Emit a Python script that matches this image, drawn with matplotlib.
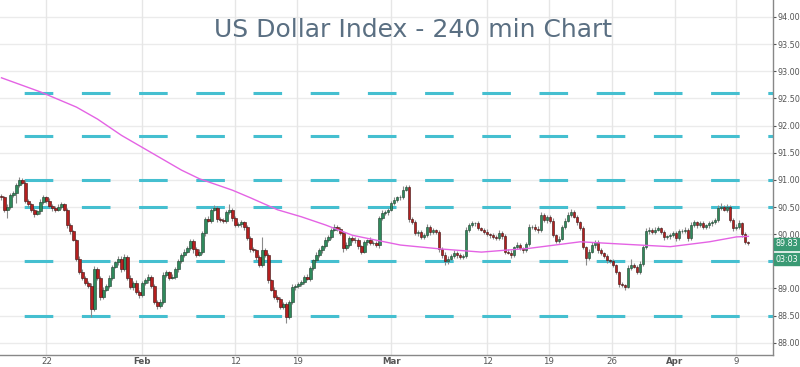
import matplotlib
matplotlib.use("Agg")
import matplotlib.pyplot as plt
from matplotlib.patches import Rectangle
import numpy as np

# ---------------- data ----------------
title = "US Dollar Index - 240 min Chart"
first_open = 90.70
closes = [
    90.68, 90.45, 90.50, 90.72, 90.75, 90.90, 91.00, 90.95, 90.62, 90.55,
    90.45, 90.38, 90.42, 90.60, 90.68, 90.62, 90.52, 90.48, 90.45, 90.50,
    90.55, 90.45, 90.17, 90.05, 89.90, 89.55, 89.30, 89.20, 89.10, 89.05,
    88.62, 89.35, 89.20, 88.85, 88.98, 89.05, 89.20, 89.40, 89.48, 89.55,
    89.35, 89.58, 89.20, 89.03, 89.10, 88.93, 88.88, 89.10, 89.15, 89.22,
    89.05, 88.75, 88.68, 88.75, 89.25, 89.30, 89.20, 89.22, 89.35, 89.50,
    89.62, 89.68, 89.75, 89.88, 89.72, 89.62, 89.68, 90.02, 90.28, 90.25,
    90.45, 90.48, 90.28, 90.26, 90.24, 90.40, 90.45, 90.30, 90.17, 90.18,
    90.22, 90.13, 89.93, 89.72, 89.70, 89.58, 89.43, 89.70, 89.62, 89.15,
    88.98, 88.85, 88.80, 88.66, 88.72, 88.48, 88.75, 89.03, 89.05, 89.08,
    89.12, 89.21, 89.18, 89.38, 89.52, 89.62, 89.70, 89.78, 89.89, 89.95,
    90.08, 90.13, 90.10, 90.02, 89.75, 89.80, 89.93, 89.90, 89.89, 89.78,
    89.68, 89.85, 89.89, 89.84, 89.84, 89.80, 90.30, 90.39, 90.40, 90.45,
    90.58, 90.63, 90.68, 90.69, 90.82, 90.87, 90.28, 90.22, 90.02, 90.04,
    89.95, 89.98, 90.13, 90.04, 90.07, 90.04, 89.72, 89.62, 89.50, 89.55,
    89.60, 89.65, 89.62, 89.58, 89.60, 90.08, 90.17, 90.20, 90.20, 90.11,
    90.08, 90.04, 90.00, 89.98, 89.95, 89.93, 90.02, 89.97, 89.68, 89.66,
    89.62, 89.76, 89.80, 89.74, 89.71, 89.82, 90.13, 90.14, 90.10, 90.08,
    90.35, 90.26, 90.32, 90.25, 89.98, 89.88, 89.92, 90.13, 90.25, 90.35,
    90.41, 90.32, 90.22, 90.11, 89.76, 89.56, 89.68, 89.80, 89.86, 89.70,
    89.65, 89.60, 89.52, 89.50, 89.43, 89.30, 89.08, 89.06, 89.03, 89.38,
    89.43, 89.40, 89.31, 89.45, 89.76, 90.06, 90.08, 90.04, 90.08, 90.11,
    90.04, 89.95, 89.96, 89.98, 90.02, 89.93, 90.05, 90.06, 90.08, 89.93,
    90.17, 90.22, 90.16, 90.20, 90.13, 90.16, 90.20, 90.22, 90.26, 90.48,
    90.50, 90.45, 90.50, 90.26, 90.11, 90.14, 90.20, 90.00, 89.86, 89.83,
]
# wick lengths above / below the body, in hundredths of an index point
upper_wick = [
    4, 3, 5, 3, 4, 5, 5, 3, 4, 3,   3, 4, 3, 5, 4, 3, 4, 3, 3, 5,
    4, 3, 3, 4, 3, 2, 4, 5, 3, 4,   5, 6, 4, 3, 4, 3, 5, 4, 3, 5,
    4, 6, 3, 4, 3, 5, 4, 3, 5, 4,   3, 4, 3, 5, 6, 4, 3, 4, 5, 4,
    3, 5, 4, 4, 3, 5, 4, 4, 3, 5,   4, 5, 3, 4, 3, 4, 10, 4, 3, 4,
    5, 3, 4, 3, 4, 3, 3, 25, 4, 3,  3, 4, 3, 4, 3, 4, 4, 5, 3, 4,
    4, 3, 5, 4, 3, 5, 4, 3, 5, 4,   4, 5, 3, 4, 3, 5, 4, 3, 5, 4,
    3, 4, 3, 5, 4, 3, 4, 5, 4, 3,   4, 5, 3, 4, 7, 4, 4, 3, 5, 4,
    3, 4, 5, 3, 4, 3, 3, 4, 5, 4,   3, 5, 4, 4, 3, 6, 4, 5, 3, 4,
    3, 4, 5, 3, 4, 3, 5, 4, 3, 4,   4, 3, 5, 4, 3, 4, 5, 3, 4, 5,
    6, 4, 3, 4, 5, 3, 4, 3, 4, 5,   5, 4, 3, 3, 4, 3, 4, 5, 4, 3,
    4, 3, 4, 3, 4, 3, 3, 4, 3, 5,   12, 4, 3, 5, 4, 5, 6, 4, 5, 4,
    3, 4, 3, 5, 4, 3, 4, 3, 5, 4,   5, 4, 3, 5, 4, 3, 4, 4, 3, 5,
    8, 4, 5, 3, 4, 5, 6, 3, 4, 2,
]
lower_wick = [
    5, 4, 15, 4, 3, 18, 4, 3, 4, 5,  4, 6, 3, 4, 5, 4, 3, 5, 4, 3,
    4, 3, 5, 4, 3, 4, 3, 5, 4, 5,    14, 4, 5, 6, 4, 3, 4, 5, 3, 4,
    5, 3, 4, 4, 5, 3, 6, 4, 3, 5,    4, 3, 5, 4, 3, 4, 5, 3, 4, 5,
    3, 4, 3, 5, 6, 4, 3, 4, 5, 3,    4, 3, 5, 4, 3, 4, 3, 5, 4, 3,
    4, 5, 3, 4, 3, 5, 4, 3, 4, 5,    3, 4, 5, 3, 4, 12, 4, 3, 5, 4,
    3, 4, 3, 5, 4, 3, 4, 5, 3, 4,    4, 3, 5, 4, 8, 4, 3, 4, 5, 6,
    4, 3, 5, 4, 3, 4, 5, 4, 3, 4,    3, 4, 3, 5, 4, 3, 5, 4, 3, 5,
    4, 3, 4, 5, 3, 4, 4, 5, 6, 4,    3, 4, 5, 3, 4, 3, 4, 3, 5, 4,
    3, 4, 3, 5, 4, 3, 4, 5, 4, 3,    6, 4, 3, 4, 5, 3, 4, 3, 4, 5,
    4, 3, 5, 4, 3, 4, 5, 3, 4, 3,    4, 3, 5, 4, 3, 12, 4, 3, 5, 4,
    3, 4, 5, 3, 4, 3, 5, 4, 6, 3,    4, 3, 5, 4, 3, 4, 5, 3, 4, 3,
    4, 5, 3, 4, 3, 5, 4, 3, 4, 5,    3, 4, 5, 3, 4, 3, 4, 5, 3, 4,
    4, 3, 5, 4, 5, 3, 4, 5, 4, 3,
]
# moving average (sampled at bar indices)
ma_index = [0, 13, 25, 32, 40, 50, 60, 66, 77, 83, 92, 100, 108, 117, 124,
            133, 146, 160, 176, 193, 206, 223, 236, 245, 249]
ma_value = [92.88, 92.62, 92.34, 92.12, 91.82, 91.50, 91.18, 91.02, 90.81,
            90.67, 90.45, 90.32, 90.17, 89.98, 89.90, 89.80, 89.73, 89.67,
            89.74, 89.86, 89.82, 89.77, 89.86, 89.95, 89.96]
# horizontal support / resistance levels
levels = [92.6, 91.8, 91.0, 90.5, 89.5, 88.5]
# x-axis labels
x_labels = ["22", "Feb", "12", "19", "Mar", "12", "19", "26", "Apr", "9"]
x_label_bar = [15, 47, 78, 98.5, 130, 162, 182.5, 203.5, 224.5, 245]
bold_labels = {"Feb", "Mar", "Apr"}
grid_y = [88.0, 88.5, 89.0, 89.5, 90.0, 90.5, 91.0, 91.5, 92.0, 92.5, 93.0, 93.5, 94.0]
y_ticks = [88.0, 88.5, 89.0, 90.0, 90.5, 91.0, 91.5, 92.0, 92.5, 93.0, 93.5, 94.0]
last_price_label = "89.83"
timer_label = "03:03"

# ---------------- figure ----------------
W, H = 800, 367
fig = plt.figure(figsize=(W / 100, H / 100), dpi=100)
ax = fig.add_axes([0, 12 / H, 773 / W, 355 / H])

closes_a = np.array(closes)
opens_a = np.concatenate([[first_open], closes_a[:-1]])
highs = np.maximum(opens_a, closes_a) + np.array(upper_wick) / 100.0
lows = np.minimum(opens_a, closes_a) - np.array(lower_wick) / 100.0
idx = np.arange(len(closes_a))

up_col = "#2f8a5c"
dn_col = "#b51f1f"
up = closes_a >= opens_a

# grid
for yv in grid_y:
    ax.axhline(yv, color="#ebebeb", lw=1.0, zorder=0)
for xv in x_label_bar:
    ax.axvline(xv, color="#e6e6e6", lw=1.0, zorder=0)

# levels
px_pt = 0.72
for lv in levels:
    ax.axhline(lv, color="#45bfd0", lw=2.2, zorder=1,
               linestyle=(15 * px_pt, (13 * px_pt, 13 * px_pt)),
               solid_capstyle="butt", dash_capstyle="butt")

# wicks
ax.vlines(idx, lows, highs, color="#8a8a8a", lw=0.8, zorder=2)
# bodies
body_h = np.abs(closes_a - opens_a)
body_h = np.maximum(body_h, 0.006)
body_b = np.minimum(opens_a, closes_a)
ax.bar(idx[up], body_h[up], bottom=body_b[up], width=0.7,
       color=up_col, edgecolor="#1d3d2c", linewidth=0.4, zorder=3)
ax.bar(idx[~up], body_h[~up], bottom=body_b[~up], width=0.7,
       color=dn_col, edgecolor="#3a1010", linewidth=0.4, zorder=3)

# moving average
ax.plot(ma_index, ma_value, color="#e463e4", lw=1.0, zorder=4)

ax.set_xlim(-0.5, 257.2)
ax.set_ylim(87.775, 94.313)

ax.yaxis.tick_right()
ax.set_yticks(y_ticks)
ax.set_yticklabels([f"{v:.2f}" for v in y_ticks])
ax.set_xticks(x_label_bar)
ax.set_xticklabels(x_labels)
for lbl in ax.get_xticklabels():
    if lbl.get_text() in bold_labels:
        lbl.set_fontweight("bold")
ax.tick_params(axis="y", labelsize=5.8, colors="#555555", length=2, pad=1,
               labelcolor="#555555")
ax.tick_params(axis="x", labelsize=6.2, colors="#555555", length=0, pad=1.5,
               labelcolor="#555555")
for s in ["top", "left"]:
    ax.spines[s].set_visible(False)
for s in ["right", "bottom"]:
    ax.spines[s].set_color("#888888")
    ax.spines[s].set_linewidth(1.0)

# title
fig.text(413 / W, 1 - 30 / H, title, ha="center", va="center",
         fontsize=18, color="#5a6f82", family="DejaVu Sans")

# right-side labels
lab_col = "#3a9a74"
for (txt, ytop) in [(last_price_label, 238), (timer_label, 253)]:
    fig.patches.append(Rectangle((774 / W, 1 - (ytop + 12) / H), 30 / W, 12 / H,
                                 transform=fig.transFigure, color=lab_col,
                                 zorder=5))
    fig.text(776 / W, 1 - (ytop + 6) / H, txt, ha="left", va="center",
             fontsize=5.8, color="white", zorder=6)

fig.savefig("out.png", dpi=100)
